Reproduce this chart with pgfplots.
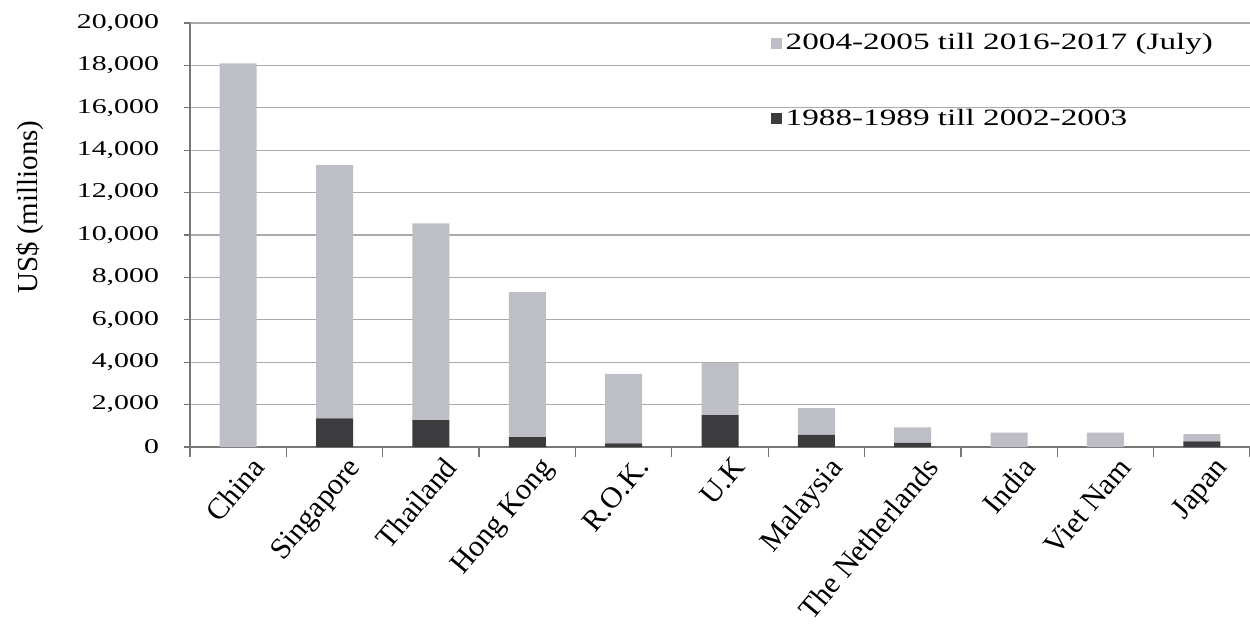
\documentclass[border=0pt]{standalone}
\usepackage{fontspec}
\setmainfont[FakeStretch=1.42]{Liberation Serif}
\newfontfamily\plainserif{Liberation Serif}
\usepackage{pgfplots}
\pgfplotsset{compat=1.18}
\definecolor{lightbar}{RGB}{190,190,198}
\definecolor{darkbar}{RGB}{60,60,62}
\definecolor{gridc}{RGB}{170,170,170}
\begin{document}
\begin{tikzpicture}
\begin{axis}[
  name=ax,
  scale only axis,
  width=530pt, height=212pt,
  ybar stacked,
  bar width=18.5pt,
  xmin=-0.5, xmax=10.5,
  ymin=0, ymax=20000,
  ytick={0,2000,...,20000},
  xtick={0,...,10},
  xticklabels={China,Singapore,Thailand,Hong Kong,R.O.K.,U.K,Malaysia,The Netherlands,India,Viet Nam,Japan},
  minor xtick={-0.5,0.5,...,10.5},
  axis lines=left,
  axis line style={gridc!70!black, line width=0.6pt, -},
  ymajorgrids,
  grid style={gridc, line width=0.6pt},
  major x tick style={draw=none},
  minor x tick style={gridc!70!black, line width=0.6pt},
  minor tick length=5pt,
  y tick style={gridc!70!black, line width=0.6pt},
  major tick length=3pt,
  tick align=outside,
  scaled y ticks=false,
  /pgf/number format/1000 sep={,},
  /pgf/number format/assume math mode=true,
  yticklabel style={font=\fontsize{10.5}{12}\selectfont, xshift=-9pt},
  xticklabel style={font=\plainserif\fontsize{15}{16}\selectfont, rotate=50, anchor=north east, inner sep=1pt, yshift=-4pt, xshift=4pt},
  ylabel={US\$ (millions)},
  ylabel style={font=\plainserif\fontsize{14.5}{16}\selectfont, at={(axis description cs:-0.151,0.566)}, anchor=center},
  reverse legend,
  legend style={at={(0.548,0.985)}, anchor=north west, draw=none, fill=none,
    font=\fontsize{11.7}{13}\selectfont, row sep=24pt, inner sep=0pt,
    /tikz/every even column/.append style={column sep=3pt}},
  legend cell align=left,
  legend image code/.code={\fill[#1] (0pt,-2.6pt) rectangle (5.2pt,2.6pt);},
]
\addplot[fill=darkbar, draw=none] coordinates {
 (0,0) (1,1350) (2,1270) (3,470) (4,170) (5,1500) (6,570) (7,200) (8,0) (9,0) (10,270)};
\addplot[fill=lightbar, draw=none] coordinates {
 (0,18100) (1,11950) (2,9280) (3,6830) (4,3280) (5,2470) (6,1260) (7,720) (8,680) (9,680) (10,340)};
\legend{1988-1989 till 2002-2003, 2004-2005 till 2016-2017 (July)}
\end{axis}
\pgfresetboundingbox
\path ([xshift=-95pt,yshift=-97pt]ax.south west) rectangle ([yshift=11.5pt]ax.north east);
\end{tikzpicture}
\end{document}
